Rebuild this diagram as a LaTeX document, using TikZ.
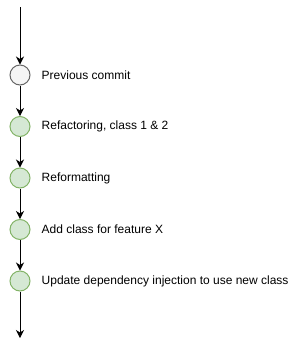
\documentclass[tikz,border=0pt]{standalone}
\usepackage{fontspec}
\setmainfont{Liberation Sans}
\usepackage{tikz}
\usetikzlibrary{positioning, arrows.meta}

\definecolor{oldfill}{HTML}{F5F5F5}
\definecolor{oldline}{HTML}{666666}
\definecolor{newfill}{HTML}{D5E8D4}
\definecolor{newline}{HTML}{82B366}

\begin{document}
\begin{tikzpicture}[
    node distance=30.5pt and 11pt,
    commit/.style={circle, draw=newline, fill=newfill, line width=1pt, minimum size=20pt, inner sep=0pt},
    oldcommit/.style={commit, draw=oldline, fill=oldfill},
    label/.style={inner sep=0pt, anchor=west, font=\fontsize{12}{14}\selectfont},
    arrow/.style={-{Stealth[length=8pt, width=8pt, inset=2.5pt]}, line width=1pt}
]
    \useasboundingbox (0,0) rectangle (300pt,-346pt);

    \coordinate (start) at (20pt,-7pt);
    \node[oldcommit] (prev) at (20pt,-75pt) {};
    \node[commit, below=of prev] (refac) {};
    \node[commit, below=of refac] (reform) {};
    \node[commit, below=of reform] (addcls) {};
    \node[commit, below=of addcls] (update) {};
    \coordinate (finish) at (20pt,-338pt);

    \node[label, right=of prev] (prevtxt) {Previous commit};
    \node[label, right=of refac] (refactxt) {Refactoring, class 1 \& 2};
    \node[label, right=of reform] (reformtxt) {Reformatting};
    \node[label, right=of addcls] (addclstxt) {Add class for feature X};
    \node[label, right=of update] (updatetxt) {Update dependency injection to use new class};

    \draw[arrow] (start) -- (prev);
    \draw[arrow] (prev) -- (refac);
    \draw[arrow] (refac) -- (reform);
    \draw[arrow] (reform) -- (addcls);
    \draw[arrow] (addcls) -- (update);
    \draw[arrow] (update) -- (finish);
\end{tikzpicture}
\end{document}
